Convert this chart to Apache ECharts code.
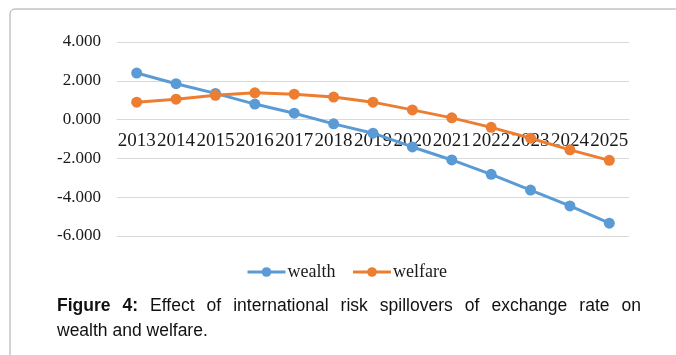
<!DOCTYPE html>
<html>
<head>
<meta charset="utf-8">
<script src="https://cdn.jsdelivr.net/npm/echarts@6/dist/echarts.min.js"></script>
<style>
html,body{margin:0;padding:0;background:#fff;}
#chart{width:676px;height:355px;}
</style>
</head>
<body>
<div id="chart"></div>
<script>
const years = ["2013","2014","2015","2016","2017","2018","2019","2020","2021","2022","2023","2024","2025"];
const wealth = [2.40, 1.85, 1.35, 0.80, 0.33, -0.22, -0.70, -1.41, -2.08, -2.82, -3.63, -4.45, -5.34];
const welfare = [0.90, 1.05, 1.25, 1.38, 1.31, 1.16, 0.90, 0.50, 0.09, -0.40, -0.96, -1.56, -2.10];
const seriesNames = ["wealth", "welfare"];
const yTicks = { min: -6, max: 4, interval: 2 };
const captionLine1 = ["Figure", "4:", "Effect", "of", "international", "risk", "spillovers", "of", "exchange", "rate", "on"];
const captionBoldCount = 2;
const captionLine2 = "wealth and welfare.";

const serif = '"Liberation Serif", "Times New Roman", serif';
const sans = '"Liberation Sans", Arial, sans-serif';

// layout
const gridTop = 42, gridHeight = 194;
const zeroOffset = -gridHeight * (0 - yTicks.min) / (yTicks.max - yTicks.min);

// justify caption line 1
const capSize = 17.5;
const capLeft = 57, capRight = 641;
const cv = document.createElement('canvas').getContext('2d');
const widths = captionLine1.map((w, i) => {
  cv.font = (i < captionBoldCount ? 'bold ' : '') + capSize + 'px ' + sans;
  return cv.measureText(w).width;
});
const total = widths.reduce((a, b) => a + b, 0);
const gap = (capRight - capLeft - total) / (captionLine1.length - 1);
let cx = capLeft;
const capEls = captionLine1.map((w, i) => {
  const el = {
    type: 'text', left: cx, top: 297.5,
    style: { text: w, font: (i < captionBoldCount ? 'bold ' : '') + capSize + 'px ' + sans, fill: '#111' }
  };
  cx += widths[i] + gap;
  return el;
});
capEls.push({
  type: 'text', left: capLeft, top: 322.5,
  style: { text: captionLine2, font: capSize + 'px ' + sans, fill: '#111' }
});

const chart = echarts.init(document.getElementById('chart'), null, { renderer: 'canvas' });
chart.setOption({
  animation: false,
  backgroundColor: '#fff',
  color: ['#5B9BD5', '#ED7D31'],
  graphic: [
    { type: 'rect', shape: { x: 10, y: 9, width: 720, height: 420, r: 5 }, style: { stroke: '#a6a6a6', lineWidth: 1, fill: 'none' }, z: -1 }
  ].concat(capEls),
  grid: { left: 117, width: 512, top: gridTop, height: gridHeight, containLabel: false },
  legend: {
    left: 241, top: 258,
    itemWidth: 38, itemHeight: 12, itemGap: 16,
    lineStyle: { width: 3 },
    textStyle: { fontFamily: serif, fontSize: 18, color: '#1a1a1a', padding: [0, 0, 0, -3] },
    data: seriesNames
  },
  xAxis: {
    type: 'category',
    data: years,
    boundaryGap: true,
    offset: zeroOffset,
    axisLine: { onZero: false, lineStyle: { color: '#d9d9d9', width: 1 } },
    axisTick: { show: false },
    axisLabel: { fontFamily: serif, fontSize: 19, color: '#1a1a1a', margin: 12, interval: 0 }
  },
  yAxis: {
    type: 'value',
    min: yTicks.min, max: yTicks.max, interval: yTicks.interval,
    axisLine: { show: false },
    axisTick: { show: false },
    splitLine: { lineStyle: { color: '#d9d9d9', width: 1 } },
    axisLabel: { fontFamily: serif, fontSize: 17, color: '#1a1a1a', margin: 16, formatter: v => v.toFixed(3) }
  },
  series: [
    { name: seriesNames[0], type: 'line', data: wealth, symbol: 'circle', symbolSize: 11, lineStyle: { width: 3 } },
    { name: seriesNames[1], type: 'line', data: welfare, symbol: 'circle', symbolSize: 11, lineStyle: { width: 3 } }
  ]
});
</script>
</body>
</html>
